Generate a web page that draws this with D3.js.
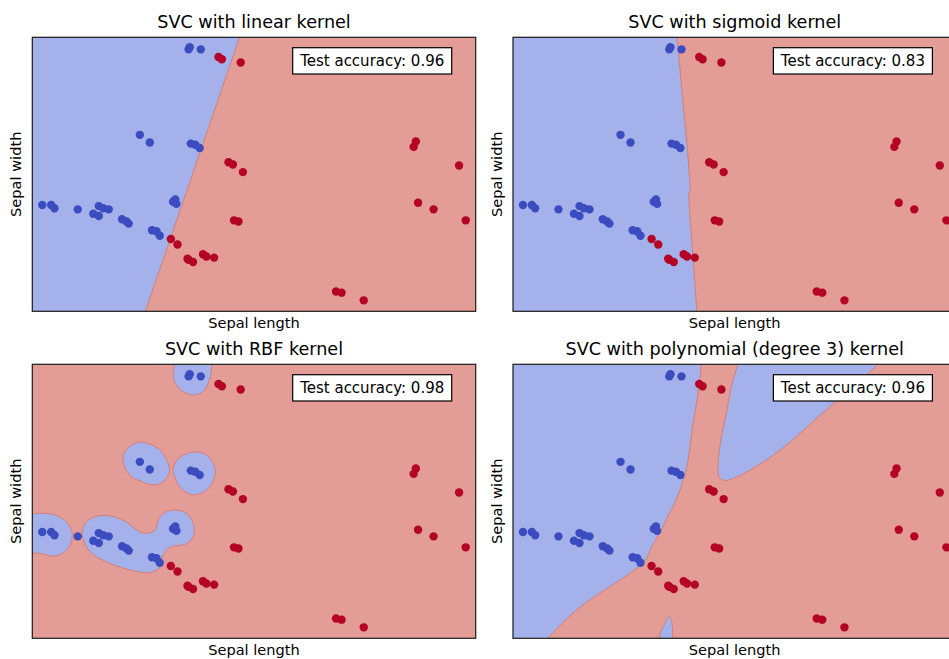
<!DOCTYPE html>
<html>
<head>
<meta charset="utf-8">
<script src="https://cdn.jsdelivr.net/npm/d3@7"></script>
<style>
  body { margin: 0; background: #fff; }
  svg { display: block; font-family: "DejaVu Sans", sans-serif; }
</style>
</head>
<body>
<div id="container"></div>
<script>
// panel titles + scores
const titles = ["SVC with linear kernel", "SVC with sigmoid kernel",
  "SVC with RBF kernel", "SVC with polynomial (degree 3) kernel"];
const accuracy = [0.96, 0.83, 0.98, 0.96];
const xLabel = "Sepal length";
const yLabel = "Sepal width";

const xDomain = [4.0, 8.0];
const yDomain = [2.0, 4.5];

// test points (class 0 = blue, class 1 = red)
const blueX = [5.41, 5.42, 5.52, 4.97, 5.06, 5.43, 5.47, 5.51, 4.09, 4.17, 4.20, 4.41, 4.60,
  4.64, 4.69, 4.55, 4.60, 4.81, 4.85, 4.87, 5.27, 5.29, 5.30, 5.08, 5.12, 5.15];
const blueY = [4.39, 4.41, 4.39, 3.61, 3.54, 3.53, 3.52, 3.49, 2.97, 2.97, 2.94, 2.93, 2.96,
  2.94, 2.93, 2.89, 2.87, 2.84, 2.82, 2.80, 3.00, 3.02, 2.98, 2.74, 2.73, 2.69];
const redX = [5.68, 5.71, 5.88, 5.77, 5.81, 5.90, 5.82, 5.86, 5.25, 5.31, 5.40, 5.41, 5.45,
  5.54, 5.57, 5.64, 6.74, 6.79, 6.99, 7.46, 7.44, 7.85, 7.48, 7.62, 7.91];
const redY = [4.32, 4.30, 4.27, 3.36, 3.34, 3.27, 2.83, 2.82, 2.66, 2.61, 2.48, 2.47, 2.45,
  2.52, 2.50, 2.49, 2.18, 2.17, 2.10, 3.55, 3.50, 3.33, 2.99, 2.93, 2.83];

// blue decision regions, one list of polygons per kernel
const linearBlue = [
  [[3.9, 4.55], [5.887, 4.55], [5.003, 1.95], [3.9, 1.95]]
];
const sigmoidBlue = [
  [[3.9, 4.55], [5.475, 4.55], [5.48, 4.50], [5.52, 4.06], [5.57, 3.52], [5.60, 3.13],
   [5.585, 3.05], [5.60, 2.82], [5.63, 2.39], [5.66, 1.99], [5.665, 1.95], [3.9, 1.95]]
];
const rbfBlue = [
  [[5.28, 4.54], [5.28, 4.48], [5.27, 4.39], [5.30, 4.31], [5.36, 4.25], [5.45, 4.22],
   [5.53, 4.24], [5.58, 4.31], [5.61, 4.40], [5.62, 4.48], [5.63, 4.54]],
  [[4.82, 3.67], [4.88, 3.75], [4.97, 3.79], [5.06, 3.77], [5.15, 3.72], [5.21, 3.63],
   [5.24, 3.53], [5.21, 3.46], [5.15, 3.41], [5.08, 3.40], [4.99, 3.43], [4.90, 3.47],
   [4.84, 3.55], [4.82, 3.61]],
  [[5.27, 3.53], [5.30, 3.62], [5.38, 3.68], [5.47, 3.70], [5.56, 3.68], [5.62, 3.62],
   [5.65, 3.53], [5.63, 3.43], [5.57, 3.35], [5.48, 3.31], [5.41, 3.32], [5.33, 3.38],
   [5.29, 3.46]],
  [[3.94, 3.11], [4.10, 3.14], [4.22, 3.12], [4.31, 3.06], [4.36, 2.96], [4.34, 2.85],
   [4.28, 2.78], [4.19, 2.75], [4.10, 2.77], [3.94, 2.81]],
  [[4.45, 2.97], [4.48, 3.05], [4.54, 3.10], [4.63, 3.12], [4.73, 3.11], [4.85, 3.06],
   [4.97, 2.97], [5.05, 2.96], [5.11, 2.99], [5.14, 3.09], [5.20, 3.15], [5.29, 3.17],
   [5.39, 3.14], [5.45, 3.05], [5.46, 2.96], [5.42, 2.88], [5.35, 2.85], [5.24, 2.83],
   [5.18, 2.76], [5.14, 2.64], [5.06, 2.60], [4.94, 2.61], [4.79, 2.65], [4.64, 2.71],
   [4.54, 2.77], [4.48, 2.85]]
];
const polyBlue = [
  [[3.93, 4.58], [5.71, 4.58], [5.70, 4.50], [5.67, 4.24], [5.62, 3.93], [5.58, 3.63],
   [5.55, 3.49], [5.47, 3.26], [5.38, 3.08], [5.34, 2.99], [5.25, 2.83], [5.19, 2.71],
   [5.05, 2.59], [4.78, 2.41], [4.54, 2.23], [4.32, 2.01], [4.24, 1.94], [3.93, 1.94]],
  [[6.04, 4.52], [6.03, 4.50], [5.97, 4.30], [5.93, 4.08], [5.87, 3.78], [5.85, 3.56],
   [5.86, 3.47], [5.91, 3.44], [5.99, 3.46], [6.11, 3.52], [6.29, 3.63], [6.50, 3.79],
   [6.71, 3.98], [6.89, 4.14], [7.07, 4.30], [7.28, 4.49], [7.30, 4.52]],
  [[5.31, 1.94], [5.32, 2.01], [5.35, 2.10], [5.37, 2.13], [5.39, 2.18], [5.41, 2.20],
   [5.43, 2.16], [5.44, 2.08], [5.44, 2.01], [5.45, 1.94]]
];
const regions = [linearBlue, sigmoidBlue, rbfBlue, polyBlue];

let width = 949;
let height = 659;

let plotW = 443.4;
let plotH = 274;
let panelLeft = [32.3, 513, 32.3, 513];
let panelTop = [37.3, 37.3, 364.3, 364.3];

let svg = d3.select('#container')
  .append("svg")
  .attr("width", width)
  .attr("height", height);

svg.append("rect").attr("width", width).attr("height", height).attr("fill", "white");

let x = d3.scaleLinear().domain(xDomain).range([0, plotW]);
let y = d3.scaleLinear().domain(yDomain).range([plotH, 0]);

let blueTest = blueX.map((v, i) => [v, blueY[i]]);
let redTest = redX.map((v, i) => [v, redY[i]]);

for (let p = 0; p < 4; p++) {
  let g = svg.append("g")
    .attr("transform", "translate(" + panelLeft[p] + "," + panelTop[p] + ")");

  let clipId = "clip" + p;
  g.append("clipPath").attr("id", clipId)
    .append("rect").attr("width", plotW).attr("height", plotH);

  let plot = g.append("g").attr("clip-path", "url(#" + clipId + ")");

  // red class fills everything, blue regions on top
  plot.append("rect")
    .attr("width", plotW).attr("height", plotH)
    .attr("fill", "#e49c97");

  let line = d3.line()
    .x(d => x(d[0]))
    .y(d => y(d[1]))
    .curve(p < 2 ? d3.curveLinearClosed : d3.curveCatmullRomClosed.alpha(0.5));

  plot.selectAll("path.region")
    .data(regions[p])
    .enter()
    .append("path")
    .attr("class", "region")
    .attr("d", line)
    .attr("fill", "#a4b1ea")
    .attr("stroke", "#d27a72")
    .attr("stroke-width", 0.9);

  plot.selectAll("circle.blue")
    .data(blueTest)
    .enter()
    .append("circle")
    .attr("class", "blue")
    .attr("cx", d => x(d[0]))
    .attr("cy", d => y(d[1]))
    .attr("r", 4.2)
    .attr("fill", "#3b4cc0");

  plot.selectAll("circle.red")
    .data(redTest)
    .enter()
    .append("circle")
    .attr("class", "red")
    .attr("cx", d => x(d[0]))
    .attr("cy", d => y(d[1]))
    .attr("r", 4.2)
    .attr("fill", "#b40426");

  // frame
  g.append("rect")
    .attr("width", plotW).attr("height", plotH)
    .attr("fill", "none")
    .attr("stroke", "#1a1a1a")
    .attr("stroke-width", 1.2);

  // score box
  g.append("rect")
    .attr("x", 260.4).attr("y", 10.4)
    .attr("width", 159).attr("height", 26.3)
    .attr("fill", "white")
    .attr("stroke", "black")
    .attr("stroke-width", 1.2);
  g.append("text")
    .attr("x", 260.4 + 79.5).attr("y", 10.4 + 18.5)
    .attr("text-anchor", "middle")
    .style("font-size", "15px")
    .text("Test accuracy: " + accuracy[p].toFixed(2));

  g.append("text")
    .attr("x", plotW / 2).attr("y", -9.5)
    .attr("text-anchor", "middle")
    .style("font-size", "17.6px")
    .text(titles[p]);

  g.append("text")
    .attr("x", plotW / 2).attr("y", plotH + 16.5)
    .attr("text-anchor", "middle")
    .style("font-size", "14.6px")
    .text(xLabel);

  g.append("text")
    .attr("transform", "translate(-11," + (plotH / 2) + ") rotate(-90)")
    .attr("text-anchor", "middle")
    .style("font-size", "14.6px")
    .text(yLabel);
}
</script>
</body>
</html>
